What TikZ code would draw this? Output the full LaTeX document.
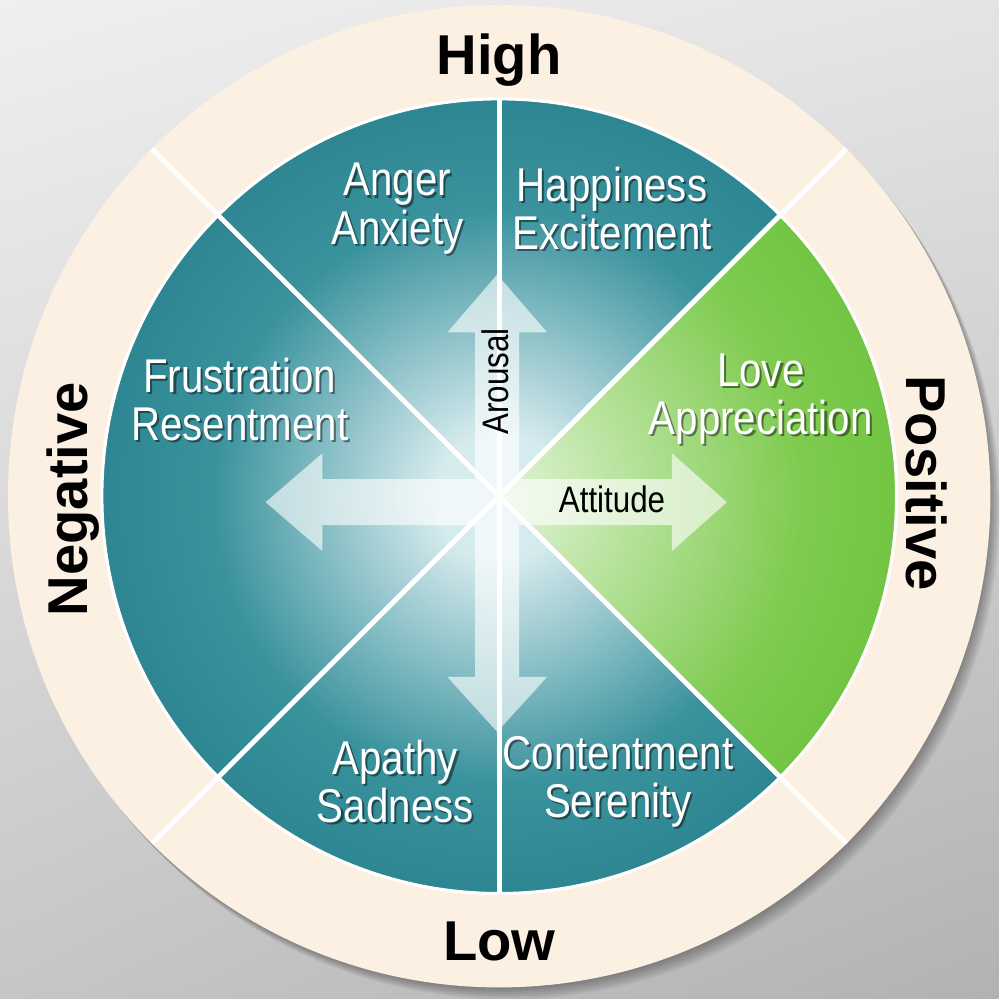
\documentclass[tikz,border=0pt]{standalone}
\usepackage{fontspec}
\setmainfont{Liberation Sans}
\newfontfamily\narrowfont[FakeStretch=0.85]{Liberation Sans}
\usepackage{xcolor}
\usetikzlibrary{shadings}

\definecolor{bgA}{HTML}{EFEFEF}
\definecolor{bgB}{HTML}{E4E4E4}
\definecolor{bgC}{HTML}{C6C6C6}
\definecolor{bgD}{HTML}{B2B2B2}
\definecolor{ringcream}{HTML}{FCF0E3}
\definecolor{tealpale}{HTML}{D6EBEE}
\definecolor{tealmid}{HTML}{3A929D}
\definecolor{tealdeep}{HTML}{18737E}
\definecolor{greenpale}{HTML}{E2F4D6}
\definecolor{greenmid}{HTML}{7FCB50}
\definecolor{greendeep}{HTML}{55B823}

% radial fills of the wheel, centre light, rim dark
\pgfdeclareradialshading{tealglow}{\pgfpoint{0bp}{0bp}}{%
  color(0bp)=(tealpale); color(4bp)=(tealpale); color(18bp)=(tealmid);
  color(36bp)=(tealdeep); color(50bp)=(tealdeep)}
\pgfdeclareradialshading{greenglow}{\pgfpoint{0bp}{0bp}}{%
  color(0bp)=(greenpale); color(19bp)=(greenmid); color(38bp)=(greendeep);
  color(50bp)=(greendeep)}

\newcommand{\moodlabel}[3]{%
  \node[lblshade, xshift=0.6pt, yshift=-0.6pt] at (#2) {#3};
  \node[lbl] (#1) at (#2) {#3};}

\begin{document}
\begin{tikzpicture}[
    x=0.01cm, y=0.01cm,
    lbl/.style      = {font=\narrowfont\fontsize{13.5}{13.7}\selectfont, text=white,
                       align=center, inner sep=0pt},
    lblshade/.style = {lbl, text=black, opacity=0.45},
    pole/.style     = {font=\bfseries\fontsize{16}{18}\selectfont, inner sep=0pt},
    axislbl/.style  = {font=\narrowfont\fontsize{10.5}{12}\selectfont, inner sep=0pt},
    divider/.style  = {white, line width=1.4pt},
]

% ---------------- backdrop ----------------
\shade[upper left=bgA, upper right=bgB, lower left=bgC, lower right=bgD]
    (-500,-500) rectangle (500,500);
\coordinate (hub) at (0,3);

% soft drop shadow of the ring
\foreach \k in {1,...,8}
    \fill[black, opacity=0.045] ([shift={(1.2*\k,-1.5*\k)}]hub) circle[radius=492];

% ---------------- ring and wheel ----------------
\fill[ringcream] (hub) circle[radius=492];
\shade[shading=tealglow] (hub) circle[radius=398];
\begin{scope}
    \clip (hub) -- ++(-45:398) arc[start angle=-45, end angle=45, radius=398] -- cycle;
    \shade[shading=greenglow] (hub) circle[radius=398];
\end{scope}
\draw[white, line width=0.9pt] (hub) circle[radius=398];

% sector dividers
\draw[divider] (hub) ++(135:492) -- ++(-45:984);
\draw[divider] (hub) ++(45:492) -- ++(225:984);
\draw[divider] (hub) ++(90:398) -- ++(270:796);

% ---------------- axis arrows ----------------
\fill[white, fill opacity=0.62, shift={(-2,-3)}]
    (230,0) -- (175,49) -- (175,23) -- (22,23) -- (22,170) -- (50,170) -- (0,228)
    -- (-50,170) -- (-22,170) -- (-22,23) -- (-175,23) -- (-175,49) -- (-232,0)
    -- (-175,-49) -- (-175,-23) -- (-22,-23) -- (-22,-175) -- (-50,-175) -- (0,-230)
    -- (50,-175) -- (22,-175) -- (22,-23) -- (175,-23) -- (175,-49) -- cycle;

\node[axislbl, rotate=90, anchor=base] (arousal) at (9,118) {Arousal};
\node[axislbl, anchor=base] (attitude) at (113,-13) {Attitude};

% ---------------- sector labels ----------------
\moodlabel{anger}{-102,291}{Anger\\Anxiety}
\moodlabel{happy}{113,291}{Happiness\\Excitement}
\moodlabel{frust}{-260,100}{Frustration\\Resentment}
\moodlabel{love}{262,100}{Love\\Appreciation}
\moodlabel{apathy}{-104,-283}{Apathy\\Sadness}
\moodlabel{content}{119,-283}{Contentment\\Serenity}

% ---------------- ring labels ----------------
\node[pole, anchor=base] (high) at (0,425) {High};
\node[pole, anchor=base] (low) at (0,-462) {Low};
\node[pole, anchor=base, rotate=90] (neg) at (-412,0) {Negative};
\node[pole, anchor=base, rotate=-90] (pos) at (408,16) {Positive};

\end{tikzpicture}
\end{document}
